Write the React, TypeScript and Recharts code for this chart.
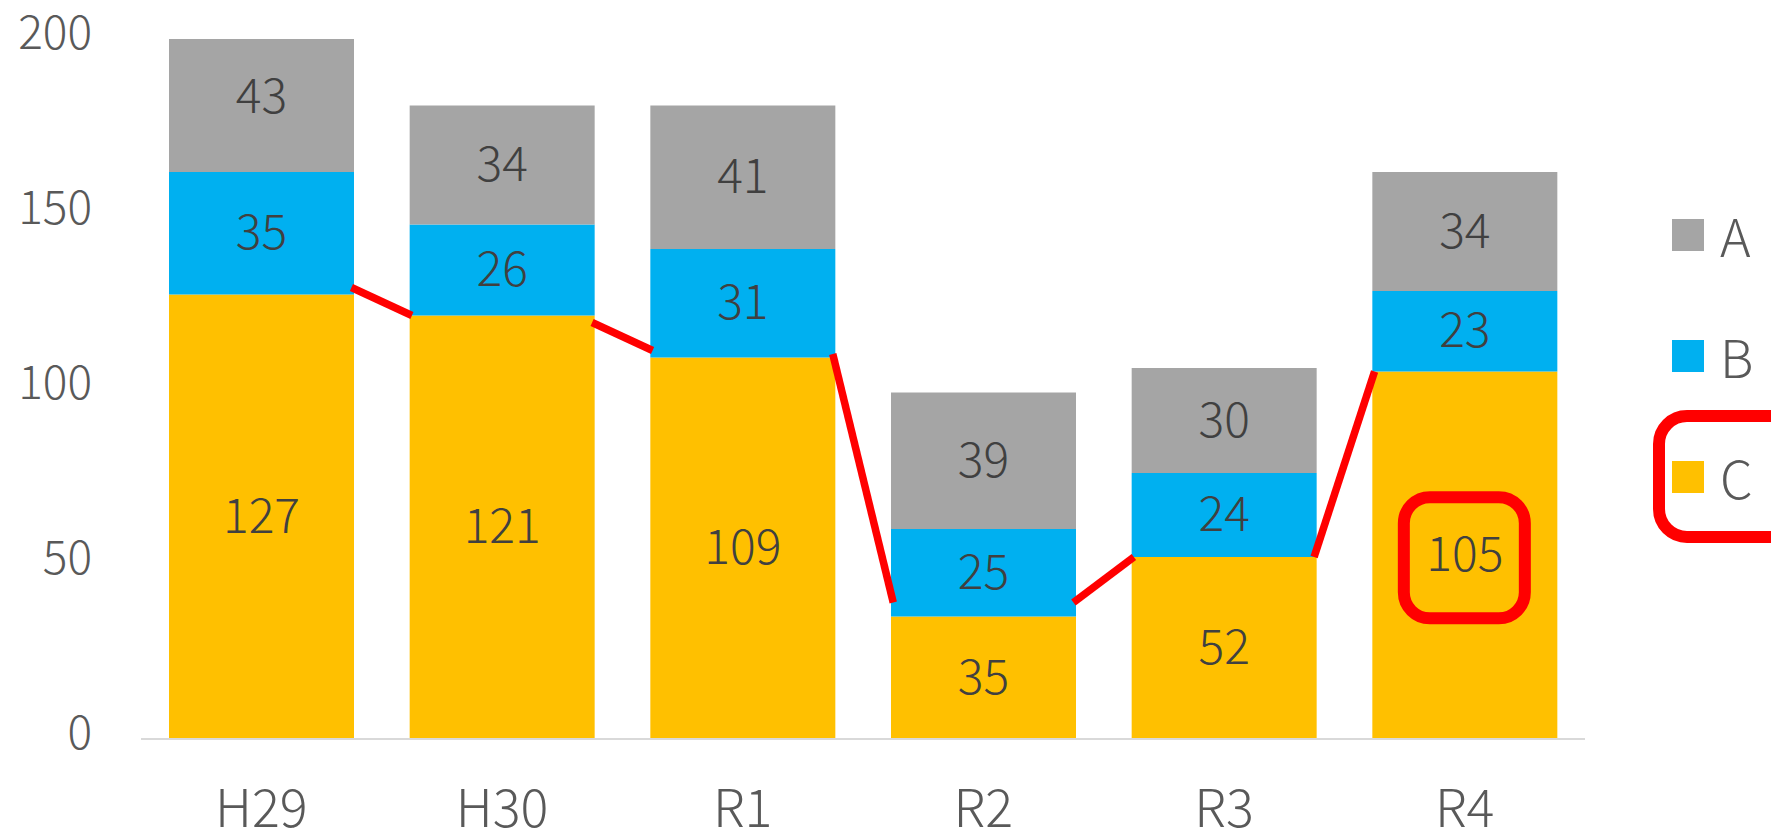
import { Bar, BarChart, LabelList, Legend, ReferenceLine, XAxis, YAxis } from 'recharts';

const categories = ['H29', 'H30', 'R1', 'R2', 'R3', 'R4'];
const seriesA = [43, 34, 41, 39, 30, 34];
const seriesB = [35, 26, 31, 25, 24, 23];
const seriesC = [127, 121, 109, 35, 52, 105];
const yTicks = [0, 50, 100, 150, 200];

// hand-drawn red trend strokes between neighbouring bars
const trendFrom = [129, 119, 110, 39, 52];
const trendTo = [121, 111, 39, 52, 105];
const highlightIndex = 5;

const W = 1771;
const H = 829;
const LEFT = 141;
const RIGHT = 186;
const TOP = 39;
const X_AXIS_H = 90;
const PLOT_W = W - LEFT - RIGHT;
const PLOT_H = H - TOP - X_AXIS_H;
const BAND = PLOT_W / categories.length;
const BAR_SIZE = 185;
const HALF = BAR_SIZE / 2 / BAND;
const Y_MAX = 200;
const PX_PER_UNIT = PLOT_H / Y_MAX;

const FONT = "'Noto Sans CJK JP', 'Noto Sans', sans-serif";
const RED = '#ff0000';

const legendItems = [
  { name: 'A', color: '#a5a5a5' },
  { name: 'B', color: '#00b0f0' },
  { name: 'C', color: '#ffc000' },
];

const data = categories.map((name, i) => ({ name, A: seriesA[i], B: seriesB[i], C: seriesC[i] }));

function SegmentLabel(props: any, boxed: boolean) {
  const { x, y, width, height, value, index } = props;
  const cx = x + width / 2;
  // centre of the full segment, even where the bar is clipped at the axis max
  const cy = y + height - (Number(value) * PX_PER_UNIT) / 2;
  return (
    <g>
      {boxed && index === highlightIndex && (
        <rect x={cx - 61} y={cy - 58} width={121} height={121} rx={26} fill="none" stroke={RED} strokeWidth={12} />
      )}
      <text
        x={cx}
        y={cy - 5}
        textAnchor="middle"
        dominantBaseline="central"
        fill="#404040"
        fontSize={48}
        fontWeight={300}
        fontFamily={FONT}
      >
        {value}
      </text>
    </g>
  );
}

function LegendContent() {
  return (
    <div style={{ fontFamily: FONT }}>
      {legendItems.map((item) => (
        <div key={item.name} style={{ position: 'relative', height: 121, display: 'flex', alignItems: 'center' }}>
          {item.name === 'C' && (
            <div
              style={{
                position: 'absolute',
                left: -19,
                top: -6,
                width: 150,
                height: 133,
                border: `12px solid ${RED}`,
                borderRadius: 34,
                boxSizing: 'border-box',
              }}
            />
          )}
          <span style={{ width: 32, height: 32, background: item.color, display: 'inline-block' }} />
          <span style={{ marginLeft: 16, fontSize: 52, fontWeight: 300, color: '#595959', lineHeight: 1 }}>
            {item.name}
          </span>
        </div>
      ))}
    </div>
  );
}

export default function App() {
  return (
    <div style={{ position: 'fixed', left: 0, top: 0, width: W, height: H, overflow: 'hidden', background: '#fff' }}>
      <BarChart width={W} height={H} data={data} margin={{ top: TOP, right: RIGHT, left: 0, bottom: 0 }}>
        <XAxis
          dataKey="name"
          height={X_AXIS_H}
          tickSize={0}
          tickMargin={51}
          axisLine={{ stroke: '#d9d9d9', strokeWidth: 2 }}
          tick={{ fill: '#595959', fontSize: 52, fontWeight: 300, fontFamily: FONT }}
        />
        <XAxis
          xAxisId="edge"
          type="number"
          domain={[0, categories.length - 1]}
          padding={{ left: BAND / 2, right: BAND / 2 }}
          allowDataOverflow
          hide
        />
        <YAxis
          width={LEFT}
          domain={[0, Y_MAX]}
          ticks={yTicks}
          allowDataOverflow
          axisLine={false}
          tickSize={0}
          tickMargin={49}
          tick={{ fill: '#595959', fontSize: 46, fontWeight: 300, fontFamily: FONT, dy: -6 }}
        />
        <Legend
          layout="horizontal"
          align="center"
          verticalAlign="middle"
          content={LegendContent}
          wrapperStyle={{ position: 'absolute', left: 1672, top: 174, width: 99 }}
        />
        <Bar dataKey="C" stackId="s" fill="#ffc000" barSize={BAR_SIZE} isAnimationActive={false}>
          <LabelList dataKey="C" content={(p: any) => SegmentLabel(p, true)} />
        </Bar>
        <Bar dataKey="B" stackId="s" fill="#00b0f0" barSize={BAR_SIZE} isAnimationActive={false}>
          <LabelList dataKey="B" content={(p: any) => SegmentLabel(p, false)} />
        </Bar>
        <Bar dataKey="A" stackId="s" fill="#a5a5a5" barSize={BAR_SIZE} isAnimationActive={false}>
          <LabelList dataKey="A" content={(p: any) => SegmentLabel(p, false)} />
        </Bar>
        {trendFrom.map((from, i) => (
          <ReferenceLine
            key={i}
            xAxisId="edge"
            ifOverflow="visible"
            stroke={RED}
            strokeWidth={7.5}
            segment={[
              { x: i + HALF - 0.01, y: from },
              { x: i + 1 - HALF + 0.01, y: trendTo[i] },
            ]}
          />
        ))}
      </BarChart>
    </div>
  );
}
